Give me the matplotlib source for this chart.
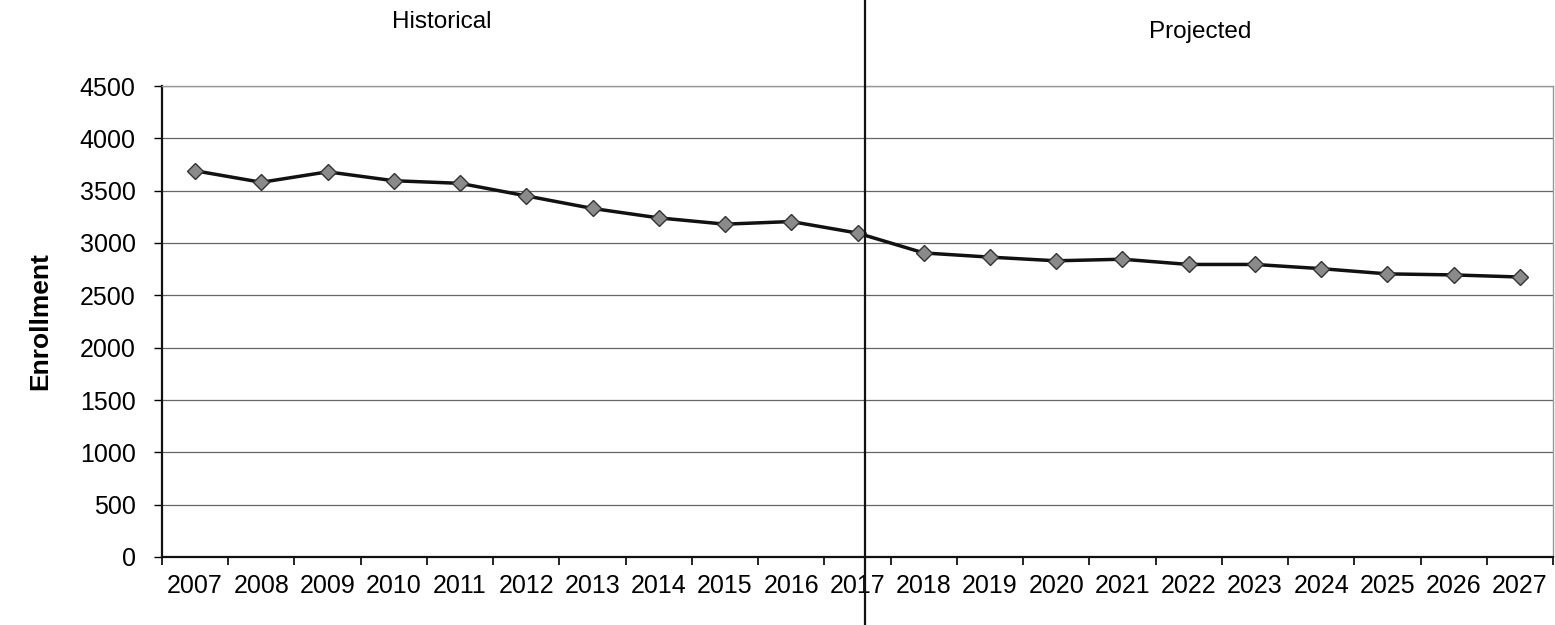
#!/usr/bin/env python3

import matplotlib.pyplot as plt
import numpy as np

plt.rcParams['font.family'] = ['Liberation Sans', 'DejaVu Sans']

# enrollment by school year, actual up to 2017 and projected after
years = [str(y) for y in range(2007, 2028)]
enrollment = [3690, 3580, 3680, 3595, 3570, 3450, 3330, 3240, 3180, 3205,
              3095, 2905, 2865, 2830, 2845, 2795, 2795, 2755, 2705, 2695, 2675]
y_ticks = [0, 500, 1000, 1500, 2000, 2500, 3000, 3500, 4000, 4500]
split_year = '2017'


def main():
    fig = plt.figure(figsize=(15.55, 6.25), dpi=100)
    ax = fig.add_axes([162 / 1555, 1 - 557 / 625, 1391 / 1555, 471 / 625])

    x = np.arange(len(years))
    ax.plot(x, enrollment, color='#111111', linewidth=2.5, marker='D',
            markersize=8, markerfacecolor='#8a8a8a', markeredgecolor='#333333',
            markeredgewidth=1.0, zorder=3)

    ax.set_xlim(-0.5, len(years) - 0.5)
    ax.set_ylim(0, 4500)
    ax.set_yticks(y_ticks)
    ax.set_yticklabels([str(v) for v in y_ticks], fontsize=18)
    ax.set_xticks(x)
    ax.set_xticklabels(years, fontsize=18)
    ax.tick_params(axis='x', which='major', length=0, pad=12)
    ax.set_xticks(np.arange(len(years) + 1) - 0.5, minor=True)
    ax.tick_params(axis='x', which='minor', length=6, width=1.2, direction='out')
    ax.tick_params(axis='y', length=6, width=1.0, pad=13)

    ax.grid(True, axis='y', color='#666666', linewidth=0.9)
    ax.set_axisbelow(True)
    for side in ['left', 'bottom']:
        ax.spines[side].set_linewidth(1.6)
        ax.spines[side].set_color('#111111')
    for side in ['top', 'right']:
        ax.spines[side].set_linewidth(1.0)
        ax.spines[side].set_color('#999999')

    ax.set_ylabel('Enrollment', fontsize=19, fontweight='bold', labelpad=20)

    # divider between historical and projected years
    split_x = years.index(split_year) + 0.12
    ax.axvline(split_x, ymin=-0.145, ymax=1.19, color='#111111',
               linewidth=1.6, clip_on=False, zorder=4)

    fig.text(442 / 1555, 1 - 22 / 625, 'Historical', fontsize=17.5,
             ha='center', va='center')
    fig.text(1200 / 1555, 1 - 32 / 625, 'Projected', fontsize=17.5,
             ha='center', va='center')

    fig.savefig('out.png', dpi=100)


if __name__ == "__main__":
    main()
